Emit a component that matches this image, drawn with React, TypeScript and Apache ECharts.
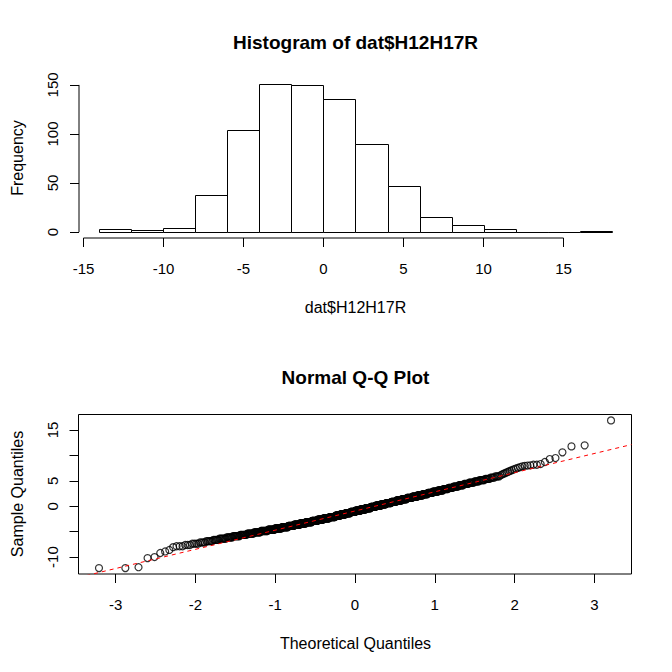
import React, { useEffect, useRef } from "react";
import * as echarts from "echarts";

const FONT = '"Liberation Sans", Arial, Helvetica, sans-serif';

// ---- Histogram data ----
const binBreaks = [-14, -12, -10, -8, -6, -4, -2, 0, 2, 4, 6, 8, 10, 12, 14, 16, 18];
const binCounts = [3, 2, 4, 38, 104, 151, 150, 136, 90, 47, 15, 7, 3, 0, 0, 1];
const histXTicks = [-15, -10, -5, 0, 5, 10, 15];
const histYTicks = [0, 50, 100, 150];

// ---- Q-Q data: sorted sample values and how many points sit at each ----
const qqValues = [
  -12.17, -12.0, -10.2, -10.0, -9.2, -8.9, -8.6, -8.05,
  -7.875, -7.625, -7.375, -7.125, -6.875, -6.625, -6.375, -6.125,
  -5.875, -5.625, -5.375, -5.125, -4.875, -4.625, -4.375, -4.125,
  -3.875, -3.625, -3.375, -3.125, -2.875, -2.625, -2.375, -2.125,
  -1.875, -1.625, -1.375, -1.125, -0.875, -0.625, -0.375, -0.125,
  0.125, 0.375, 0.625, 0.875, 1.125, 1.375, 1.625, 1.875,
  2.125, 2.375, 2.625, 2.875, 3.125, 3.375, 3.625, 3.875,
  4.125, 4.375, 4.625, 4.875, 5.125, 5.375, 5.625, 5.875,
  6.1, 6.25, 6.4, 6.5, 6.65, 6.8, 6.95, 7.1, 7.25, 7.4, 7.55, 7.7, 7.85, 7.95, 8.0,
  8.05, 8.16, 8.3, 8.7, 9.28, 9.48,
  10.6, 11.77, 11.97, 16.88,
];
const qqCounts = [
  2, 1, 1, 1, 1, 1, 1, 1,
  3, 3, 4, 4, 5, 5, 7, 7,
  9, 10, 11, 12, 14, 15, 16, 17,
  16, 17, 18, 19, 19, 20, 21, 21,
  18, 19, 19, 19, 19, 19, 19, 18,
  19, 18, 18, 17, 17, 16, 16, 15,
  14, 13, 12, 12, 11, 10, 9, 9,
  8, 7, 7, 6, 6, 5, 4, 4,
  1, 1, 1, 1, 1, 1, 1, 1, 1, 1, 1, 1, 1, 1, 1,
  1, 2, 1, 1, 1, 1,
  1, 1, 1, 1,
];
const qqXTicks = [-3, -2, -1, 0, 1, 2, 3];
const qqYTicks = [-10, -5, 0, 5, 10, 15];
const qqYLabels = [-10, 0, 5, 15];
const qqLineIntercept = -0.94;
const qqLineSlope = 3.77;

// inverse standard normal CDF (Acklam)
function qnorm(p: number): number {
  const a = [-3.969683028665376e1, 2.209460984245205e2, -2.759285104469687e2, 1.38357751867269e2, -3.066479806614716e1, 2.506628277459239];
  const b = [-5.447609879822406e1, 1.615858368580409e2, -1.556989798598866e2, 6.680131188771972e1, -1.328068155288572e1];
  const c = [-7.784894002430293e-3, -3.223964580411365e-1, -2.400758277161838, -2.549732539343734, 4.374664141464968, 2.938163982698783];
  const d = [7.784695709041462e-3, 3.224671290700398e-1, 2.445134137142996, 3.754408661907416];
  const pl = 0.02425;
  if (p < pl) {
    const q = Math.sqrt(-2 * Math.log(p));
    return (((((c[0] * q + c[1]) * q + c[2]) * q + c[3]) * q + c[4]) * q + c[5]) / ((((d[0] * q + d[1]) * q + d[2]) * q + d[3]) * q + 1);
  }
  if (p <= 1 - pl) {
    const q = p - 0.5;
    const r = q * q;
    return ((((((a[0] * r + a[1]) * r + a[2]) * r + a[3]) * r + a[4]) * r + a[5]) * q) / (((((b[0] * r + b[1]) * r + b[2]) * r + b[3]) * r + b[4]) * r + 1);
  }
  const q = Math.sqrt(-2 * Math.log(1 - p));
  return -(((((c[0] * q + c[1]) * q + c[2]) * q + c[3]) * q + c[4]) * q + c[5]) / ((((d[0] * q + d[1]) * q + d[2]) * q + d[3]) * q + 1);
}

export default function App() {
  const ref = useRef<HTMLDivElement>(null);

  useEffect(() => {
    if (!ref.current) return;
    const chart = echarts.init(ref.current, null, { renderer: "svg" });

    // histogram ranges (R style: 4% extension)
    const span = binBreaks[binBreaks.length - 1] - binBreaks[0];
    const hxMin = binBreaks[0] - 0.04 * span;
    const hxMax = binBreaks[binBreaks.length - 1] + 0.04 * span;
    const maxCount = Math.max(...binCounts);
    const hyMin = -0.04 * maxCount;
    const hyMax = maxCount * 1.04;
    const barData = binCounts.map((cnt, i) => [binBreaks[i], binBreaks[i + 1], cnt]);

    // Q-Q
    const sample: number[] = [];
    qqValues.forEach((v, k) => {
      for (let j = 0; j < qqCounts[k]; j++) sample.push(v);
    });
    const n = sample.length;
    const pts = sample.map((s, i) => [qnorm((i + 0.5) / n), s]);
    const zMax = qnorm((n - 0.5) / n);
    const qxMin = -zMax * 1.08;
    const qxMax = zMax * 1.08;
    const sMin = sample[0];
    const sMax = sample[n - 1];
    const qyMin = sMin - 0.04 * (sMax - sMin);
    const qyMax = sMax + 0.04 * (sMax - sMin);

    const tickLabel = { color: "#000", fontSize: 15, fontFamily: FONT };
    const tickLine = { color: "#000", width: 1 };
    const noLine = { show: false, onZero: false };

    const text = (t: string, x: number, y: number, size: number, bold = false, rot = 0) => ({
      type: "text",
      x,
      y,
      rotation: rot,
      silent: true,
      style: {
        text: t,
        font: `${bold ? "bold " : ""}${size}px ${FONT}`,
        fill: "#000",
        textAlign: "center",
        textVerticalAlign: "middle",
        align: "center",
        verticalAlign: "middle",
      },
    });

    chart.setOption({
      animation: false,
      backgroundColor: "#fff",
      grid: [
        { left: 79, top: 78, width: 553, height: 160, show: false },
        { left: 78.5, top: 414.5, width: 553, height: 159.5, show: true, borderColor: "#000", borderWidth: 1, backgroundColor: "transparent" },
      ],
      xAxis: [
        {
          gridIndex: 0, type: "value", min: hxMin, max: hxMax, position: "bottom",
          splitLine: { show: false }, axisLine: noLine,
          axisTick: { show: true, length: 9, lineStyle: tickLine, customValues: histXTicks },
          axisLabel: { ...tickLabel, margin: 23, customValues: histXTicks },
        },
        {
          gridIndex: 1, type: "value", min: qxMin, max: qxMax, position: "bottom",
          splitLine: { show: false }, axisLine: noLine,
          axisTick: { show: true, length: 9, lineStyle: tickLine, customValues: qqXTicks },
          axisLabel: { ...tickLabel, margin: 23, customValues: qqXTicks },
        },
      ],
      yAxis: [
        {
          gridIndex: 0, type: "value", min: hyMin, max: hyMax, position: "left",
          splitLine: { show: false }, axisLine: noLine,
          axisTick: { show: true, length: 9, lineStyle: tickLine, customValues: histYTicks },
          axisLabel: { ...tickLabel, margin: 19, rotate: 90, customValues: histYTicks },
        },
        {
          gridIndex: 1, type: "value", min: qyMin, max: qyMax, position: "left",
          splitLine: { show: false }, axisLine: noLine,
          axisTick: { show: true, length: 9, lineStyle: tickLine, customValues: qqYTicks },
          axisLabel: { ...tickLabel, margin: 19, rotate: 90, customValues: qqYLabels },
        },
      ],
      series: [
        {
          type: "custom",
          xAxisIndex: 0,
          yAxisIndex: 0,
          silent: true,
          encode: { x: [0, 1], y: 2 },
          data: barData,
          renderItem: (_params: any, api: any) => {
            const p0 = api.coord([api.value(0), 0]);
            const p1 = api.coord([api.value(1), api.value(2)]);
            const l = Math.round(p0[0]) + 0.5;
            const r = Math.round(p1[0]) + 0.5;
            const b = Math.round(p0[1]) + 0.5;
            const t = Math.round(p1[1]) + 0.5;
            return {
              type: "rect",
              shape: { x: l, y: t, width: r - l, height: b - t },
              style: { fill: "#fff", stroke: "#000", lineWidth: 1 },
            };
          },
        },
        {
          type: "line", xAxisIndex: 0, yAxisIndex: 0, silent: true, clip: false,
          symbol: "none", lineStyle: { color: "#000", width: 1 },
          data: [[histXTicks[0], hyMin], [histXTicks[histXTicks.length - 1], hyMin]],
        },
        {
          type: "line", xAxisIndex: 0, yAxisIndex: 0, silent: true, clip: false,
          symbol: "none", lineStyle: { color: "#000", width: 1 },
          data: [[hxMin, histYTicks[0]], [hxMin, histYTicks[histYTicks.length - 1]]],
        },
        {
          type: "scatter", xAxisIndex: 1, yAxisIndex: 1, silent: true,
          symbol: "circle", symbolSize: 7,
          itemStyle: { color: "rgba(0,0,0,0)", borderColor: "#000", borderWidth: 1.2 },
          data: pts,
          z: 2,
        },
        {
          type: "line", xAxisIndex: 1, yAxisIndex: 1, silent: true, clip: true,
          symbol: "none", z: 3,
          lineStyle: { color: "#ff0000", width: 1, type: [4, 4] },
          data: [
            [qxMin, qqLineIntercept + qqLineSlope * qxMin],
            [qxMax, qqLineIntercept + qqLineSlope * qxMax],
          ],
        },
      ],
      graphic: [
        text("Histogram of dat$H12H17R", 355.5, 42, 19, true),
        text("dat$H12H17R", 355.5, 307, 16),
        text("Frequency", 17, 158, 16, false, Math.PI / 2),
        text("Normal Q-Q Plot", 355.5, 377, 19, true),
        text("Theoretical Quantiles", 355.5, 643, 16),
        text("Sample Quantiles", 17, 494, 16, false, Math.PI / 2),
      ],
    });

    return () => chart.dispose();
  }, []);

  return (
    <div
      ref={ref}
      style={{ position: "fixed", left: 0, top: 0, width: 672, height: 672, background: "#fff" }}
    />
  );
}
